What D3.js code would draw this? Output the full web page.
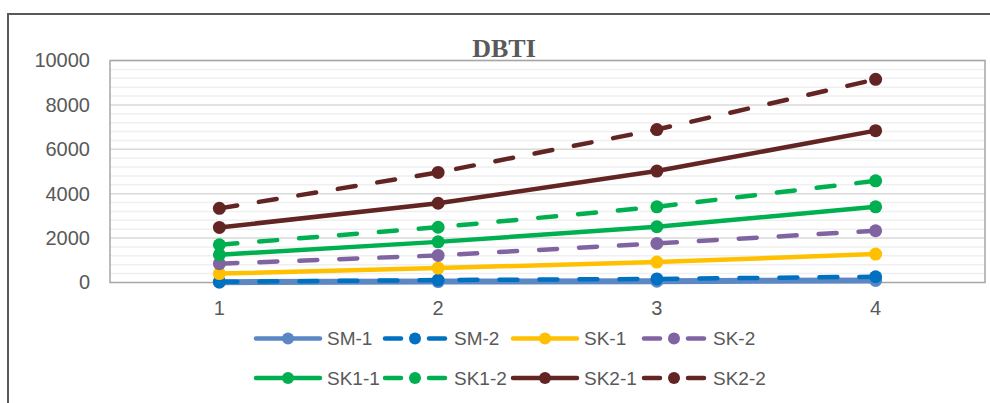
<!DOCTYPE html>
<html>
<head>
<meta charset="utf-8">
<script src="https://cdn.jsdelivr.net/npm/d3@7"></script>
<style>
  html, body { margin: 0; padding: 0; background: #fff; }
  svg { display: block; }
</style>
</head>
<body>
<svg id="chart" width="990" height="403"></svg>
<script>
// Categories on the x axis
const categories = ["1", "2", "3", "4"];

// Series values (DBTI)
const sm1  = [15, 40, 60, 90];
const sm2  = [30, 110, 160, 260];
const sk1  = [400, 650, 920, 1280];
const sk2  = [850, 1220, 1760, 2330];
const sk11 = [1250, 1830, 2510, 3410];
const sk12 = [1700, 2490, 3410, 4580];
const sk21 = [2480, 3570, 5020, 6840];
const sk22 = [3340, 4960, 6890, 9150];

const seriesNames = ["SM-1", "SM-2", "SK-1", "SK-2", "SK1-1", "SK1-2", "SK2-1", "SK2-2"];
const seriesValues = [sm1, sm2, sk1, sk2, sk11, sk12, sk21, sk22];
const yTicks = [0, 2000, 4000, 6000, 8000, 10000];

// Styling per series
const colors = ["#5b87c4", "#0070c0", "#ffc000", "#8064a2", "#00b050", "#00b050", "#632523", "#632523"];
const dashed = [false, true, false, true, false, true, false, true];

const svg = d3.select("#chart");
const plot = { left: 110, right: 985, top: 60.5, bottom: 282.5 };

// Outer chart frame
svg.append("path")
  .attr("d", "M8,403 V14 H992")
  .attr("fill", "none")
  .attr("stroke", "#595959")
  .attr("stroke-width", 2);

const x = d3.scaleBand().domain(categories).range([plot.left, plot.right]);
const xc = c => x(c) + x.bandwidth() / 2;
const y = d3.scaleLinear().domain([0, 10000]).range([plot.bottom, plot.top]);

// Minor gridlines
const minor = d3.range(0, 10001, 400).filter(v => v % 2000 !== 0);
svg.append("g").selectAll("line").data(minor).join("line")
  .attr("x1", plot.left).attr("x2", plot.right)
  .attr("y1", d => y(d)).attr("y2", d => y(d))
  .attr("stroke", "#efefef").attr("stroke-width", 1.5);

// Major gridlines
svg.append("g").selectAll("line").data(yTicks.slice(1)).join("line")
  .attr("x1", plot.left).attr("x2", plot.right)
  .attr("y1", d => y(d)).attr("y2", d => y(d))
  .attr("stroke", "#d9d9d9").attr("stroke-width", 1.5);

// Plot area border
svg.append("rect")
  .attr("x", plot.left).attr("y", plot.top)
  .attr("width", plot.right - plot.left).attr("height", plot.bottom - plot.top)
  .attr("fill", "none").attr("stroke", "#a6a6a6").attr("stroke-width", 1.5);

// Y axis labels
const yAxis = d3.axisLeft(y).tickValues(yTicks).tickFormat(d3.format("d")).tickSize(0).tickPadding(20);
const gy = svg.append("g").attr("transform", `translate(${plot.left},0)`).call(yAxis);
gy.select(".domain").remove();
gy.selectAll("text")
  .attr("font-family", "Liberation Sans, Arial, sans-serif")
  .attr("font-size", 20).attr("fill", "#595959");

// X axis labels
const xAxis = d3.axisBottom(x).tickSize(0).tickPadding(18);
const gx = svg.append("g").attr("transform", `translate(0,${plot.bottom})`).call(xAxis);
gx.select(".domain").remove();
gx.selectAll("text")
  .attr("font-family", "Liberation Sans, Arial, sans-serif")
  .attr("font-size", 20).attr("fill", "#595959");

// Title
svg.append("text")
  .attr("x", 504).attr("y", 57)
  .attr("text-anchor", "middle")
  .attr("font-family", "Liberation Serif, Times New Roman, serif")
  .attr("font-weight", "bold")
  .attr("font-size", 26)
  .attr("fill", "#595959")
  .text("DBTI");

// Series lines and markers
const line = d3.line().x((d, i) => xc(categories[i])).y(d => y(d));
const series = svg.append("g");
seriesValues.forEach((vals, s) => {
  const g = series.append("g");
  g.append("path")
    .attr("d", line(vals))
    .attr("fill", "none")
    .attr("stroke", colors[s])
    .attr("stroke-width", s === 0 ? 6 : 4.5)
    .attr("stroke-linecap", "round")
    .attr("stroke-linejoin", "round")
    .attr("stroke-dasharray", dashed[s] ? "18,22" : null);
  g.selectAll("circle").data(vals).join("circle")
    .attr("cx", (d, i) => xc(categories[i]))
    .attr("cy", d => y(d))
    .attr("r", 6.5)
    .attr("fill", colors[s]);
});

// Legend
const legendX = [256, 383, 513, 642];
const legendY = [338.5, 378];
const legend = svg.append("g");
seriesNames.forEach((name, s) => {
  const lx = legendX[s % 4], ly = legendY[Math.floor(s / 4)];
  const g = legend.append("g");
  const len = 64;
  if (dashed[s]) {
    [[lx + 2, lx + 18], [lx + len - 18, lx + len - 2]].forEach(([a, b]) => {
      g.append("line").attr("x1", a).attr("x2", b).attr("y1", ly).attr("y2", ly)
        .attr("stroke", colors[s]).attr("stroke-width", 4.5).attr("stroke-linecap", "round");
    });
  } else {
    g.append("line").attr("x1", lx).attr("x2", lx + len).attr("y1", ly).attr("y2", ly)
      .attr("stroke", colors[s]).attr("stroke-width", 4.5).attr("stroke-linecap", "round");
  }
  g.append("circle").attr("cx", lx + len / 2).attr("cy", ly).attr("r", 6).attr("fill", colors[s]);
  g.append("text")
    .attr("x", lx + len + 7).attr("y", ly)
    .attr("dy", "0.36em")
    .attr("font-family", "Liberation Sans, Arial, sans-serif")
    .attr("font-size", 19).attr("fill", "#595959")
    .text(name);
});
</script>
</body>
</html>
